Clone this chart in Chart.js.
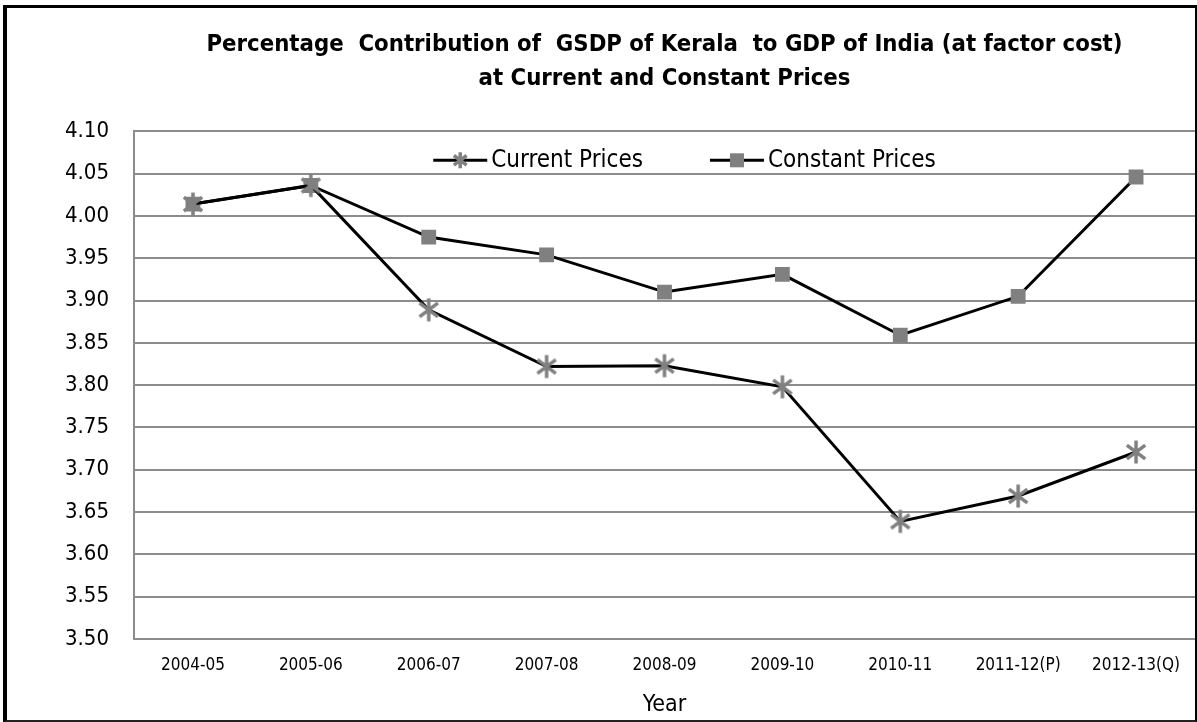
<!DOCTYPE html>
<html>
<head>
<meta charset="utf-8">
<script src="https://cdn.jsdelivr.net/npm/chart.js@4/dist/chart.umd.min.js"></script>
<style>
  body { margin: 0; background: #fff; }
  #moldura {
    position: absolute; left: 3px; top: 5px;
    width: 1188px; height: 712px;
    border-left: 4px solid #000; border-top: 3px solid #000;
    border-right: 2px solid #000; border-bottom: 2px solid #222;
  }
</style>
</head>
<body>
<div id="moldura"><canvas id="grafico" width="1188" height="712"></canvas></div>
<script>
// Dados do gráfico
const anos = ["2004-05", "2005-06", "2006-07", "2007-08", "2008-09", "2009-10", "2010-11", "2011-12(P)", "2012-13(Q)"];
const precosCorrentes = [4.014, 4.036, 3.889, 3.822, 3.823, 3.798, 3.639, 3.669, 3.721];
const precosConstantes = [4.014, 4.036, 3.975, 3.954, 3.910, 3.931, 3.859, 3.905, 4.046];
const ticksY = [3.50, 3.55, 3.60, 3.65, 3.70, 3.75, 3.80, 3.85, 3.90, 3.95, 4.00, 4.05, 4.10];

const cinza = "#808080";
const fonte = "'Liberation Sans Narrow', 'DejaVu Sans Condensed', 'Liberation Sans', sans-serif";

// Marcador de asterisco (vertical + X)
function criarEstrela(ctx, cx, cy, r) {
    ctx.strokeStyle = cinza;
    ctx.lineWidth = 3.5;
    ctx.beginPath();
    ctx.moveTo(cx, cy - r); ctx.lineTo(cx, cy + r);
    ctx.moveTo(cx - r * 0.8, cy - r * 0.6); ctx.lineTo(cx + r * 0.8, cy + r * 0.6);
    ctx.moveTo(cx + r * 0.8, cy - r * 0.6); ctx.lineTo(cx - r * 0.8, cy + r * 0.6);
    ctx.stroke();
}

const estrela = document.createElement("canvas");
estrela.width = 26; estrela.height = 26;
criarEstrela(estrela.getContext("2d"), 13, 13, 11.5);

// Legenda desenhada dentro da área do gráfico, em uma linha
const legendaInterna = {
    id: "legendaInterna",
    afterDatasetsDraw(chart) {
        const ctx = chart.ctx;
        const area = chart.chartArea;
        const y = area.top + 29;
        const seg = 54;
        ctx.save();
        ctx.font = "24px " + fonte;
        ctx.textBaseline = "middle";
        let larguras = chart.data.datasets.map(d => ctx.measureText(d.label).width);
        let total = larguras.reduce((a, b) => a + b, 0) + 2 * (seg + 4) + 67;
        let x = (area.left + area.right) / 2 + 20 - total / 2;
        chart.data.datasets.forEach((d, i) => {
            ctx.strokeStyle = "#000";
            ctx.lineWidth = 3;
            ctx.beginPath();
            ctx.moveTo(x, y); ctx.lineTo(x + seg, y);
            ctx.stroke();
            if (d.pointStyle == "rect") {
                ctx.fillStyle = cinza;
                ctx.fillRect(x + seg / 2 - 7, y - 7, 14, 14);
            } else {
                criarEstrela(ctx, x + seg / 2, y, 8);
            }
            ctx.fillStyle = "#000";
            ctx.fillText(d.label, x + seg + 4, y);
            x += seg + 4 + larguras[i] + 67;
        });
        ctx.restore();
    }
};

Chart.defaults.font.family = fonte;
Chart.defaults.color = "#000";

new Chart(document.getElementById("grafico"), {
    type: "line",
    data: {
        labels: anos,
        datasets: [
            {
                label: "Current Prices",
                data: precosCorrentes,
                borderColor: "#000",
                borderWidth: 3,
                pointStyle: estrela,
                pointRadius: 11,
                tension: 0
            },
            {
                label: "Constant Prices",
                data: precosConstantes,
                borderColor: "#000",
                borderWidth: 3,
                pointStyle: "rect",
                pointRadius: 10.5,
                pointBackgroundColor: cinza,
                pointBorderColor: cinza,
                pointBorderWidth: 0,
                tension: 0
            }
        ]
    },
    plugins: [legendaInterna],
    options: {
        responsive: false,
        animation: false,
        layout: { padding: 0, autoPadding: false },
        plugins: {
            title: {
                display: true,
                fullSize: false,
                text: ["Percentage  Contribution of  GSDP of Kerala  to GDP of India (at factor cost)", "at Current and Constant Prices"],
                font: { size: 23.7, weight: "bold", lineHeight: 1.42 },
                color: "#000",
                padding: { top: 20, bottom: 36 }
            },
            legend: { display: false },
            tooltip: { enabled: false }
        },
        scales: {
            x: {
                offset: true,
                afterFit: function (escala) {
                    escala.paddingLeft = 0;
                    escala.paddingRight = 0;
                },
                grid: { display: false, drawTicks: false, offset: false },
                border: { display: true, color: "#8c8c8c", width: 2 },
                ticks: { font: { size: 17 }, padding: 16, maxRotation: 0 },
                title: { display: true, text: "Year", font: { size: 23 }, padding: { top: 0, bottom: 1 } }
            },
            y: {
                min: 3.5,
                max: 4.1,
                afterFit: function (escala) { escala.width = 127; },
                afterBuildTicks: function (escala) {
                    escala.ticks = ticksY.map(v => ({ value: v }));
                },
                grid: { color: "#8c8c8c", lineWidth: 2, drawTicks: false },
                border: { display: true, color: "#8c8c8c", width: 2 },
                ticks: {
                    font: { size: 22 },
                    padding: 25,
                    callback: v => v.toFixed(2)
                }
            }
        }
    }
});
</script>
</body>
</html>
